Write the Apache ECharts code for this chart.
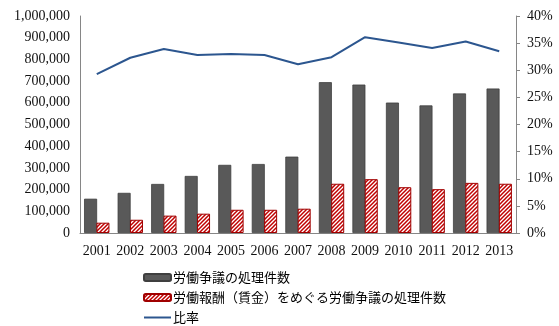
<!DOCTYPE html>
<html><head><meta charset="utf-8">
<script src="https://cdn.jsdelivr.net/npm/echarts@6/dist/echarts.min.js"></script>
<style>html,body{margin:0;padding:0;background:#fff}#c{width:559px;height:326px}</style>
</head><body><div id="c"></div>
<script>
const years = ['2001','2002','2003','2004','2005','2006','2007','2008','2009','2010','2011','2012','2013'];
const disputes = [158000,185000,226000,263000,314000,318000,352000,695000,684000,601000,588000,643000,666000];
const wageDisputes = [47500,61000,80000,89000,107000,107000,112000,227000,248000,211000,202000,231000,227000];
const ratio = [29.3,32.3,33.9,32.8,33.0,32.8,31.1,32.4,36.1,35.1,34.1,35.3,33.5];
const seriesNames = ['労働争議の処理件数','労働報酬（賃金）をめぐる労働争議の処理件数','比率'];

function stripes(){
  const c=document.createElement('canvas');c.width=4;c.height=4;
  const g=c.getContext('2d');
  g.fillStyle='#fff';g.fillRect(0,0,4,4);
  g.strokeStyle='#C00000';g.lineWidth=1.5;
  g.beginPath();
  g.moveTo(-1,5);g.lineTo(5,-1);
  g.moveTo(-1,1);g.lineTo(1,-1);
  g.moveTo(3,5);g.lineTo(5,3);
  g.stroke();
  return c;
}
const axisFont = {fontFamily:'Liberation Serif', fontSize:14, color:'#111'};
const chart = echarts.init(document.getElementById('c'), null, {renderer:'canvas'});
chart.setOption({
  animation:false,
  grid:{left:80,right:43,top:16,bottom:93,containLabel:false},
  legend:{
    orient:'vertical', left:143, top:271, height:70, padding:0, itemWidth:27, itemHeight:7, itemGap:7,
    textStyle:{fontFamily:'Noto Sans CJK JP', fontSize:13, lineHeight:13, color:'#000', padding:[0,0,0,-3]},
    data:[
      {name:seriesNames[0]},
      {name:seriesNames[1]},
      {name:seriesNames[2], icon:'path://M0,0M27,7M0,2.5H27V4.5H0Z', itemStyle:{color:'#2C568F', borderWidth:0}}
    ]
  },
  xAxis:{
    type:'category', data:years,
    axisLine:{lineStyle:{color:'#868686'}}, axisTick:{show:false},
    axisLabel:Object.assign({margin:11, interval:0}, axisFont)
  },
  yAxis:[
    {type:'value', min:0, max:1000000, interval:100000,
     axisLine:{show:true, lineStyle:{color:'#868686'}}, axisTick:{show:false},
     splitLine:{show:false},
     axisLabel:Object.assign({margin:10, formatter:v=>v.toLocaleString('en-US')}, axisFont)},
    {type:'value', min:0, max:40, interval:5, position:'right',
     axisLine:{show:true, lineStyle:{color:'#868686'}}, axisTick:{show:true, length:4, lineStyle:{color:'#868686'}},
     splitLine:{show:false},
     axisLabel:Object.assign({margin:11, formatter:'{value}%'}, axisFont)}
  ],
  series:[
    {name:seriesNames[0], type:'bar', data:disputes, barWidth:13, barGap:'-5%',
     itemStyle:{color:'#595959', borderColor:'#3f3f3f', borderWidth:0.8}},
    {name:seriesNames[1], type:'bar', data:wageDisputes, barWidth:13,
     itemStyle:{color:{image:stripes(), repeat:'repeat'}, borderColor:'#A00000', borderWidth:1}},
    {name:seriesNames[2], type:'line', yAxisIndex:1, data:ratio, symbol:'none',
     lineStyle:{color:'#2C568F', width:2}, itemStyle:{color:'#2C568F'}}
  ]
});
</script></body></html>
